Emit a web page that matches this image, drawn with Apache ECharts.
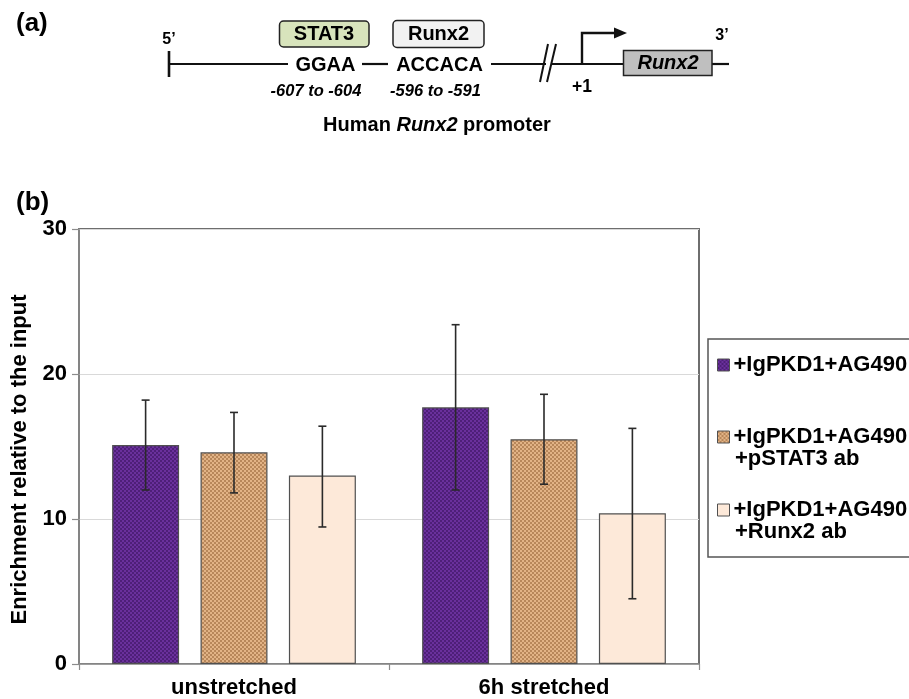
<!DOCTYPE html>
<html>
<head>
<meta charset="utf-8">
<script src="https://cdn.jsdelivr.net/npm/echarts@6/dist/echarts.min.js"></script>
<style>
html,body{margin:0;padding:0;background:#fff;}
#main{width:909px;height:699px;}
</style>
</head>
<body>
<div id="main"></div>
<script>
// ---- data ----
var categories = ['unstretched', '6h stretched'];
var seriesNames = ['+IgPKD1+AG490', '+IgPKD1+AG490\n+pSTAT3 ab', '+IgPKD1+AG490\n+Runx2 ab'];
var meansIg = [15.1, 17.7];
var meansSTAT3 = [14.6, 15.5];
var meansRunx2 = [13.0, 10.4];
var errLowIg = [12.0, 12.0];
var errHighIg = [18.2, 23.4];
var errLowSTAT3 = [11.8, 12.4];
var errHighSTAT3 = [17.35, 18.6];
var errLowRunx2 = [9.45, 4.5];
var errHighRunx2 = [16.4, 16.25];
var yTicks = [0, 10, 20, 30];
var yAxisTitle = 'Enrichment relative to the input';

var FONT = '"Liberation Sans", Arial, sans-serif';

function pattern(c1, c2) {
  var cv = document.createElement('canvas');
  cv.width = 4; cv.height = 4;
  var ctx = cv.getContext('2d');
  ctx.fillStyle = c1; ctx.fillRect(0, 0, 4, 4);
  ctx.fillStyle = c2;
  ctx.fillRect(0, 0, 2, 2); ctx.fillRect(2, 2, 2, 2);
  return { image: cv, repeat: 'repeat' };
}
var fills = [
  pattern('#6a309c', '#4e1f78'),
  pattern('#e2b386', '#b8875a'),
  '#fde9d9'
];

var BW = 0.216, GAP = 0.32;
var means = [meansIg, meansSTAT3, meansRunx2];
var lows = [errLowIg, errLowSTAT3, errLowRunx2];
var highs = [errHighIg, errHighSTAT3, errHighRunx2];

var series = [];
for (var i = 0; i < 3; i++) {
  series.push({
    name: seriesNames[i], type: 'bar', data: means[i],
    barWidth: (BW * 100) + '%', barGap: (GAP * 100) + '%',
    itemStyle: { color: fills[i], borderColor: '#505050', borderWidth: 1.2 },
    z: 2
  });
}
for (var j = 0; j < 3; j++) {
  (function (k) {
    var d = categories.map(function (c, ci) { return [ci, lows[k][ci], highs[k][ci]]; });
    series.push({
      type: 'custom', name: 'err' + k, data: d, z: 5, silent: true,
      renderItem: function (params, api) {
        var ci = api.value(0);
        var band = api.size([1, 0])[0];
        var off = (k - 1) * band * BW * (1 + GAP);
        var pl = api.coord([ci, api.value(1)]);
        var ph = api.coord([ci, api.value(2)]);
        var x = pl[0] + off;
        var cap = 4;
        var st = { stroke: '#2a2a2a', lineWidth: 1.6 };
        return { type: 'group', children: [
          { type: 'line', shape: { x1: x, y1: pl[1], x2: x, y2: ph[1] }, style: st },
          { type: 'line', shape: { x1: x - cap, y1: pl[1], x2: x + cap, y2: pl[1] }, style: st },
          { type: 'line', shape: { x1: x - cap, y1: ph[1], x2: x + cap, y2: ph[1] }, style: st }
        ]};
      }
    });
  })(j);
}

var legendTops = [354, 426, 499];
var legends = seriesNames.map(function (n, i) {
  return {
    data: [n], left: 717, top: legendTops[i], orient: 'vertical', padding: 0,
    icon: 'rect', itemWidth: 12, itemHeight: 12, itemGap: 0,
    selectedMode: false,
    itemStyle: { borderColor: '#505050', borderWidth: 1 },
    textStyle: { fontFamily: FONT, fontWeight: 'bold', fontSize: 22, color: '#000', padding: [0, 0, 0, -1] },
    formatter: function (name) { return name.split('\n')[0]; }
  };
});

var black = '#111';
function txt(x, y, t, size, extra) {
  var s = { text: t, x: x, y: y, fontFamily: FONT, fontWeight: 'bold', fontSize: size, fill: '#000', align: 'center', verticalAlign: 'middle' };
  if (extra) for (var key in extra) s[key] = extra[key];
  return { type: 'text', style: s, z: 10 };
}
function seg(x1, y1, x2, y2, w) {
  return { type: 'line', shape: { x1: x1, y1: y1, x2: x2, y2: y2 }, style: { stroke: black, lineWidth: w || 2.2 }, z: 10 };
}

var graphics = [
  txt(16, 24, '(a)', 26, { align: 'left' }),
  txt(16, 203, '(b)', 26, { align: 'left' }),
  // promoter line
  seg(169, 64, 288, 64), seg(169, 51, 169, 77, 2.6),
  seg(362, 64, 388, 64),
  seg(491, 64, 546, 64),
  seg(552, 64, 623, 64),
  seg(712, 64, 729, 64),
  seg(540, 82, 548, 44, 2), seg(547, 82, 556, 44, 2),
  txt(169, 40, '5\u2019', 16),
  txt(722, 36, '3\u2019', 16),
  { type: 'rect', shape: { x: 279.5, y: 21, width: 89.5, height: 26, r: 4 }, style: { fill: '#d8e4bc', stroke: '#222', lineWidth: 1.5 }, z: 10 },
  txt(324, 34.5, 'STAT3', 20),
  { type: 'rect', shape: { x: 393, y: 20.5, width: 91, height: 27, r: 4 }, style: { fill: '#f2f2f2', stroke: '#222', lineWidth: 1.5 }, z: 10 },
  txt(438.5, 34.5, 'Runx2', 20),
  txt(325.5, 65, 'GGAA', 20),
  txt(439.5, 65, 'ACCACA', 20),
  txt(316, 91, '-607 to -604', 16.5, { fontStyle: 'italic' }),
  txt(435.5, 91, '-596 to -591', 16.5, { fontStyle: 'italic' }),
  // TSS arrow
  { type: 'polyline', shape: { points: [[582, 64], [582, 33], [616, 33]] }, style: { stroke: black, lineWidth: 2.4, fill: null }, z: 10 },
  { type: 'polygon', shape: { points: [[614, 27.5], [627, 33], [614, 38.5]] }, style: { fill: black }, z: 10 },
  txt(582, 87, '+1', 17.5),
  { type: 'rect', shape: { x: 623.5, y: 50.5, width: 88.5, height: 25 }, style: { fill: '#bfbfbf', stroke: '#222', lineWidth: 1.5 }, z: 10 },
  txt(668, 63.5, 'Runx2', 20, { fontStyle: 'italic' }),
  // caption
  { type: 'text', z: 10, style: {
      x: 437, y: 125, align: 'center', verticalAlign: 'middle',
      text: '{b|Human }{i|Runx2}{b| promoter}',
      rich: {
        b: { fontFamily: FONT, fontWeight: 'bold', fontSize: 20, fill: '#000' },
        i: { fontFamily: FONT, fontWeight: 'bold', fontStyle: 'italic', fontSize: 20, fill: '#000' }
      }
  } },
  // y-axis title
  { type: 'text', z: 10, x: 20, y: 459.5, rotation: Math.PI / 2, style: {
      text: yAxisTitle, x: 0, y: 0, align: 'center', verticalAlign: 'middle',
      fontFamily: FONT, fontWeight: 'bold', fontSize: 22, fill: '#000' } },
  // legend box and second lines
  { type: 'rect', shape: { x: 708, y: 339, width: 220, height: 218 }, style: { fill: null, stroke: '#555', lineWidth: 1.5 }, z: 1 },
  txt(735, 459, '+pSTAT3 ab', 22, { align: 'left' }),
  txt(735, 532, '+Runx2 ab', 22, { align: 'left' })
];

var option = {
  backgroundColor: '#fff',
  animation: false,
  grid: { left: 79, right: 210, top: 229, bottom: 35, show: true, borderColor: '#6e6e6e', borderWidth: 2, backgroundColor: 'transparent' },
  legend: legends,
  xAxis: {
    type: 'category', data: categories,
    axisLine: { lineStyle: { color: '#8c8c8c', width: 1.5 } },
    axisTick: { show: true, length: 6, lineStyle: { color: '#8c8c8c', width: 1.2 } },
    axisLabel: { fontFamily: FONT, fontWeight: 'bold', fontSize: 22, color: '#000', margin: 13 }
  },
  yAxis: {
    type: 'value', min: 0, max: 30, interval: 10,
    axisLine: { show: true, lineStyle: { color: '#8c8c8c', width: 1.5 } },
    axisTick: { show: true, length: 7, lineStyle: { color: '#8c8c8c', width: 1.2 } },
    splitLine: { lineStyle: { color: '#d9d9d9', width: 1.2 } },
    axisLabel: { fontFamily: FONT, fontWeight: 'bold', fontSize: 22, color: '#000', margin: 12,
      formatter: function (v) { return yTicks.indexOf(v) >= 0 ? String(v) : ''; } }
  },
  series: series,
  graphic: graphics
};

var chart = echarts.init(document.getElementById('main'), null, { renderer: 'canvas' });
chart.setOption(option);
</script>
</body>
</html>
